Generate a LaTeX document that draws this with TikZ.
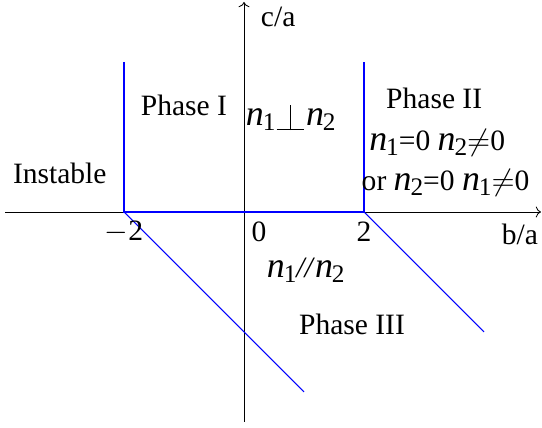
\documentclass[tikz,border=0pt]{standalone}
\usepackage{fontspec}
\setmainfont{Liberation Serif}
\usepackage{tikz}
\usetikzlibrary{arrows.meta,positioning}

\newcommand{\nvec}[1]{{\fontsize{17}{18}\selectfont\itshape n}\kern-0.5pt\raisebox{-0.35ex}{\fontsize{12}{13}\selectfont #1}}
\newcommand{\perpsym}{\raisebox{-2pt}{\rlap{\rule{13pt}{0.45pt}}\hspace{6.3pt}\rule{0.45pt}{12pt}\hspace{6.25pt}}}

\begin{document}
\begin{tikzpicture}[
    lbl/.style={font=\fontsize{14}{16}\selectfont, inner sep=1pt},
    axis/.style={thin,->,>=To},
    border/.style={blue, line width=0.5pt}
]
\useasboundingbox (-4.067,-3.6) rectangle (4.967,3.533);

% axes
\draw[axis] (-3.98,0) -- (4.95,0);
\draw[axis] (0,-3.5) -- (0,3.5);

% phase boundaries
\coordinate (m2) at (-2,0);
\coordinate (p2) at (2,0);
\draw[border] (-2,2.5) -- (m2) -- (p2) -- (2,2.5);
\draw[border] (m2) -- (1,-3);
\draw[border] (p2) -- (4,-2);

% labels
\node[lbl] (ca) at (0.57,3.25) {c/a};
\node[lbl] (ba) at (4.6,-0.38) {b/a};
\node[lbl] (tm2) at (-2,-0.33) {$-$2};
\node[lbl] (t0) at (0.25,-0.33) {0};
\node[lbl] (t2) at (2,-0.33) {2};
\node[lbl] (inst) at (-3.07,0.65) {Instable};
\node[lbl] (ph1) at (-1.0,1.78) {Phase I};
\node[lbl] (perp) at (0.78,1.57) {\nvec{1}\kern0.5pt\perpsym\kern1pt\nvec{2}};
\node[lbl] (ph2) at (3.17,1.9) {Phase II};
\node[lbl] (c2a) at (3.22,1.15) {\nvec{1}=0 \nvec{2}$\neq$0};
\node[lbl] (c2b) at (3.36,0.48) {or \nvec{2}=0 \nvec{1}$\neq$0};
\node[lbl] (par) at (1.03,-0.97) {\nvec{1}\textit{//}\nvec{2}};
\node[lbl] (ph3) at (1.8,-1.88) {Phase III};

\end{tikzpicture}
\end{document}
